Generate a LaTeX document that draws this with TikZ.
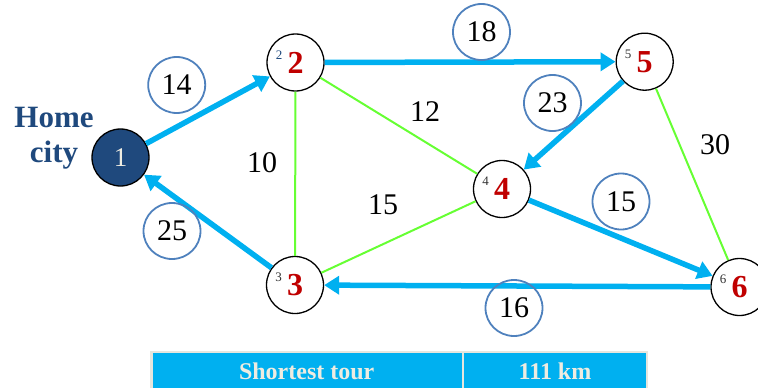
\documentclass[tikz,border=0pt]{standalone}
\usepackage{fontspec}
\setmainfont{Liberation Serif}
\usetikzlibrary{arrows.meta,shapes.geometric}
\definecolor{tourcol}{HTML}{00B0F0}
\definecolor{edgecol}{HTML}{66FF33}
\definecolor{homecol}{HTML}{1F497D}
\definecolor{ringcol}{HTML}{4F81BD}
\definecolor{digred}{HTML}{C00000}
\definecolor{cream}{HTML}{EEECE1}
\definecolor{tabborder}{HTML}{E6E6DE}
\tikzset{
  city/.style={circle, draw=black, line width=1.3pt, fill=white, minimum size=57pt, inner sep=0pt,
    text=digred, font=\fontsize{32}{36}\selectfont\bfseries},
  homenode/.style={circle, draw=black, line width=1.3pt, fill=homecol, minimum size=57pt, inner sep=0pt,
    text=cream, font=\fontsize{27}{30}\selectfont},
  smalldig/.style={inner sep=0pt, text=black!80, font=\fontsize{13}{15}\selectfont},
  tour/.style={draw=tourcol, line width=5.5pt, -{Triangle[length=15pt,width=18pt]}},
  plainedge/.style={draw=edgecol, line width=2pt},
  ringlab/.style={ellipse, draw=ringcol, line width=1.8pt, minimum width=57pt, minimum height=56pt,
    inner sep=0pt, font=\fontsize{30}{36}\selectfont},
  plainlab/.style={inner sep=0pt, font=\fontsize{30}{36}\selectfont},
  hometext/.style={inner sep=0pt, anchor=base, text=homecol, font=\fontsize{31}{35}\selectfont\bfseries},
  tabtext/.style={inner sep=0pt, anchor=base, text=cream, font=\fontsize{24}{28}\selectfont\bfseries}
}
\begin{document}
\begin{tikzpicture}[x=1pt, y=-1pt]
\useasboundingbox (0,0) rectangle (758,388);
\begin{scope}
\clip (0,0) rectangle (758,388);
% cities
\node[homenode] (n1) at (120.5,157.5) {1};
\node[city] (n2) at (295.5,62.5) {2};
\node[city] (n3) at (295,285) {3};
\node[city] (n4) at (502,189) {4};
\node[city] (n5) at (644.7,61.7) {5};
\node[city] (n6) at (739.5,287) {6};
% small digits
\node[smalldig, text=homecol] (s2) at ([shift={(-16.5,-7.5)}]n2.center) {2};
\node[smalldig] (s3) at ([shift={(-16.5,-7.5)}]n3.center) {3};
\node[smalldig] (s4) at ([shift={(-16.5,-7.5)}]n4.center) {4};
\node[smalldig] (s5) at ([shift={(-16.5,-7.5)}]n5.center) {5};
\node[smalldig] (s6) at ([shift={(-16.5,-7.5)}]n6.center) {6};
% other edges
\draw[plainedge] (n2) -- (n3);
\draw[plainedge] (n2) -- (n4);
\draw[plainedge] (n3) -- (n4);
\draw[plainedge] (n5) -- (n6);
% tour
\draw[tour] (n1) -- (n2);
\draw[tour] (n2) -- (n5);
\draw[tour] (n5) -- (n4);
\draw[tour] (n4) -- (n6);
\draw[tour] (n6) -- (n3);
\draw[tour] (n3) -- (n1);
% labels
\node[ringlab] (l14) at (176.7,85) {14};
\node[ringlab] (l18) at (481.5,32) {18};
\node[ringlab] (l23) at (552.5,103) {23};
\node[ringlab] (l15) at (621,201.5) {15};
\node[ringlab] (l16) at (514,308) {16};
\node[ringlab] (l25) at (172,231) {25};
\node[plainlab] (p12) at (425,112) {12};
\node[plainlab] (p10) at (262,163) {10};
\node[plainlab] (p15) at (383,205) {15};
\node[plainlab] (p30) at (715,145) {30};
% home city
\node[hometext] (home1) at (54,127) {Home};
\node[hometext] (home2) at (54,162) {city};
% table
\fill[tabborder] (150,350.5) rectangle (648,395);
\fill[tourcol] (152.7,352.7) rectangle (461.7,395);
\fill[tourcol] (464,352.7) rectangle (645.7,395);
\node[tabtext] (t1) at (306.7,379) {Shortest tour};
\node[tabtext] (t2) at (555,379) {111 km};
\end{scope}
\end{tikzpicture}
\end{document}
